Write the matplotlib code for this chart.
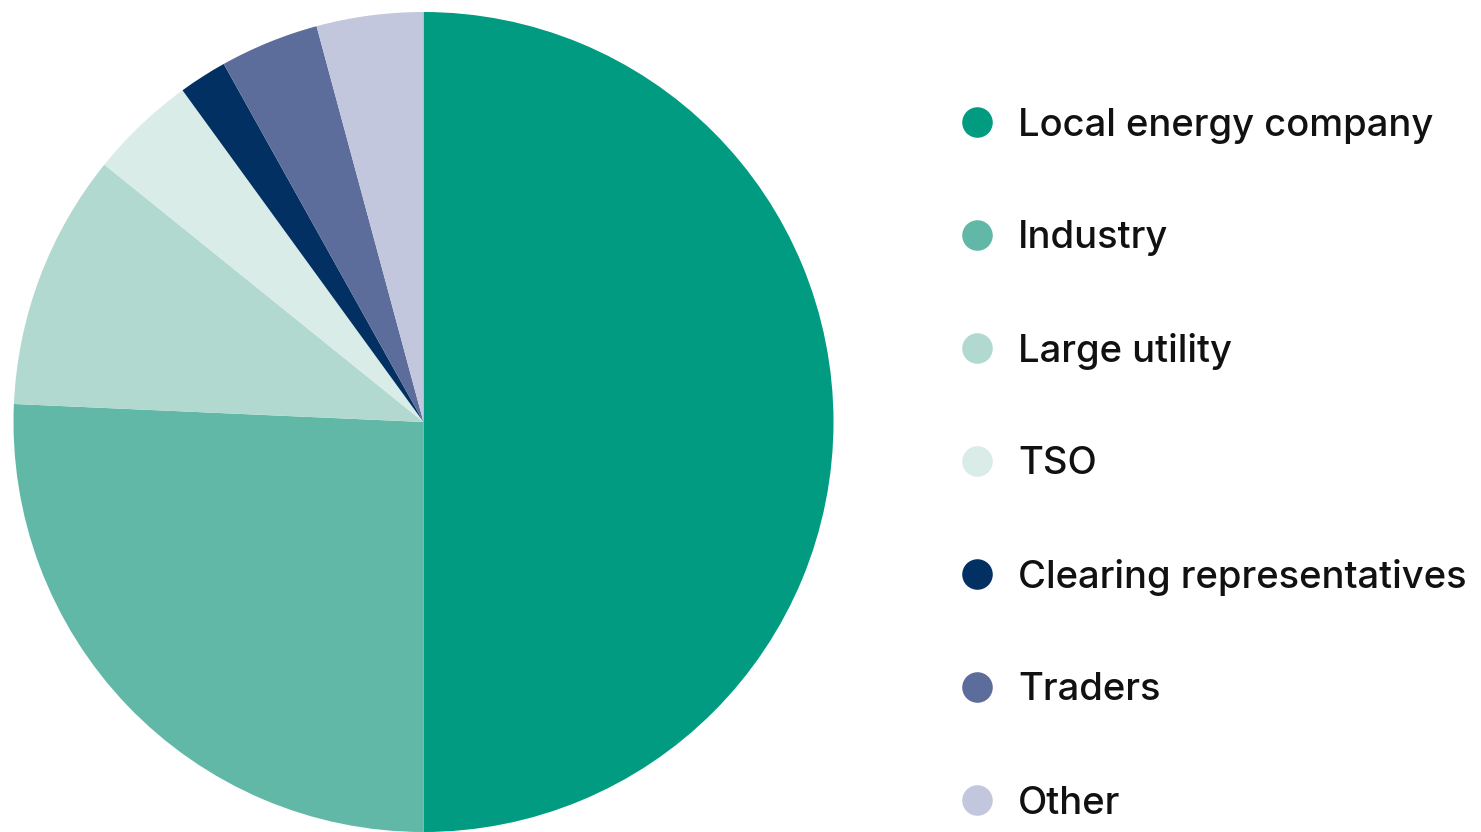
import matplotlib
matplotlib.use("Agg")
import matplotlib.pyplot as plt
from matplotlib.lines import Line2D

categories = ["Local energy company", "Industry", "Large utility", "TSO",
              "Clearing representatives", "Traders", "Other"]
values = [50.0, 25.7, 10.1, 4.2, 1.9, 3.9, 4.2]
colors = ["#009B80", "#62B8A6", "#B1D9CF", "#D9ECE7", "#033063", "#5C6C9B", "#C2C7DD"]

W, H = 1481, 832
fig = plt.figure(figsize=(W / 100, H / 100), dpi=100)
fig.patch.set_facecolor("white")

cx, cy, r = 423.5, 422, 410
ax = fig.add_axes([(cx - r) / W, (H - cy - r) / H, 2 * r / W, 2 * r / H])
ax.pie(values, colors=colors, startangle=90, counterclock=False, radius=1,
       wedgeprops=dict(linewidth=0))
ax.set_xlim(-1, 1)
ax.set_ylim(-1, 1)
ax.set_aspect("equal")
ax.axis("off")

leg_y0, leg_dy = 122, 113
for i, (lab, col) in enumerate(zip(categories, colors)):
    y = leg_y0 + i * leg_dy
    fig.add_artist(Line2D([977 / W], [1 - y / H], marker="o", markersize=22,
                          markerfacecolor=col, markeredgewidth=0, linestyle="none",
                          transform=fig.transFigure))
    fig.text(1018 / W, 1 - (y + 13.5) / H, lab, fontsize=27.5, family="Inter",
             fontweight="medium", color="#111111", va="baseline", ha="left")

fig.savefig("out.png", dpi=100, facecolor="white")
